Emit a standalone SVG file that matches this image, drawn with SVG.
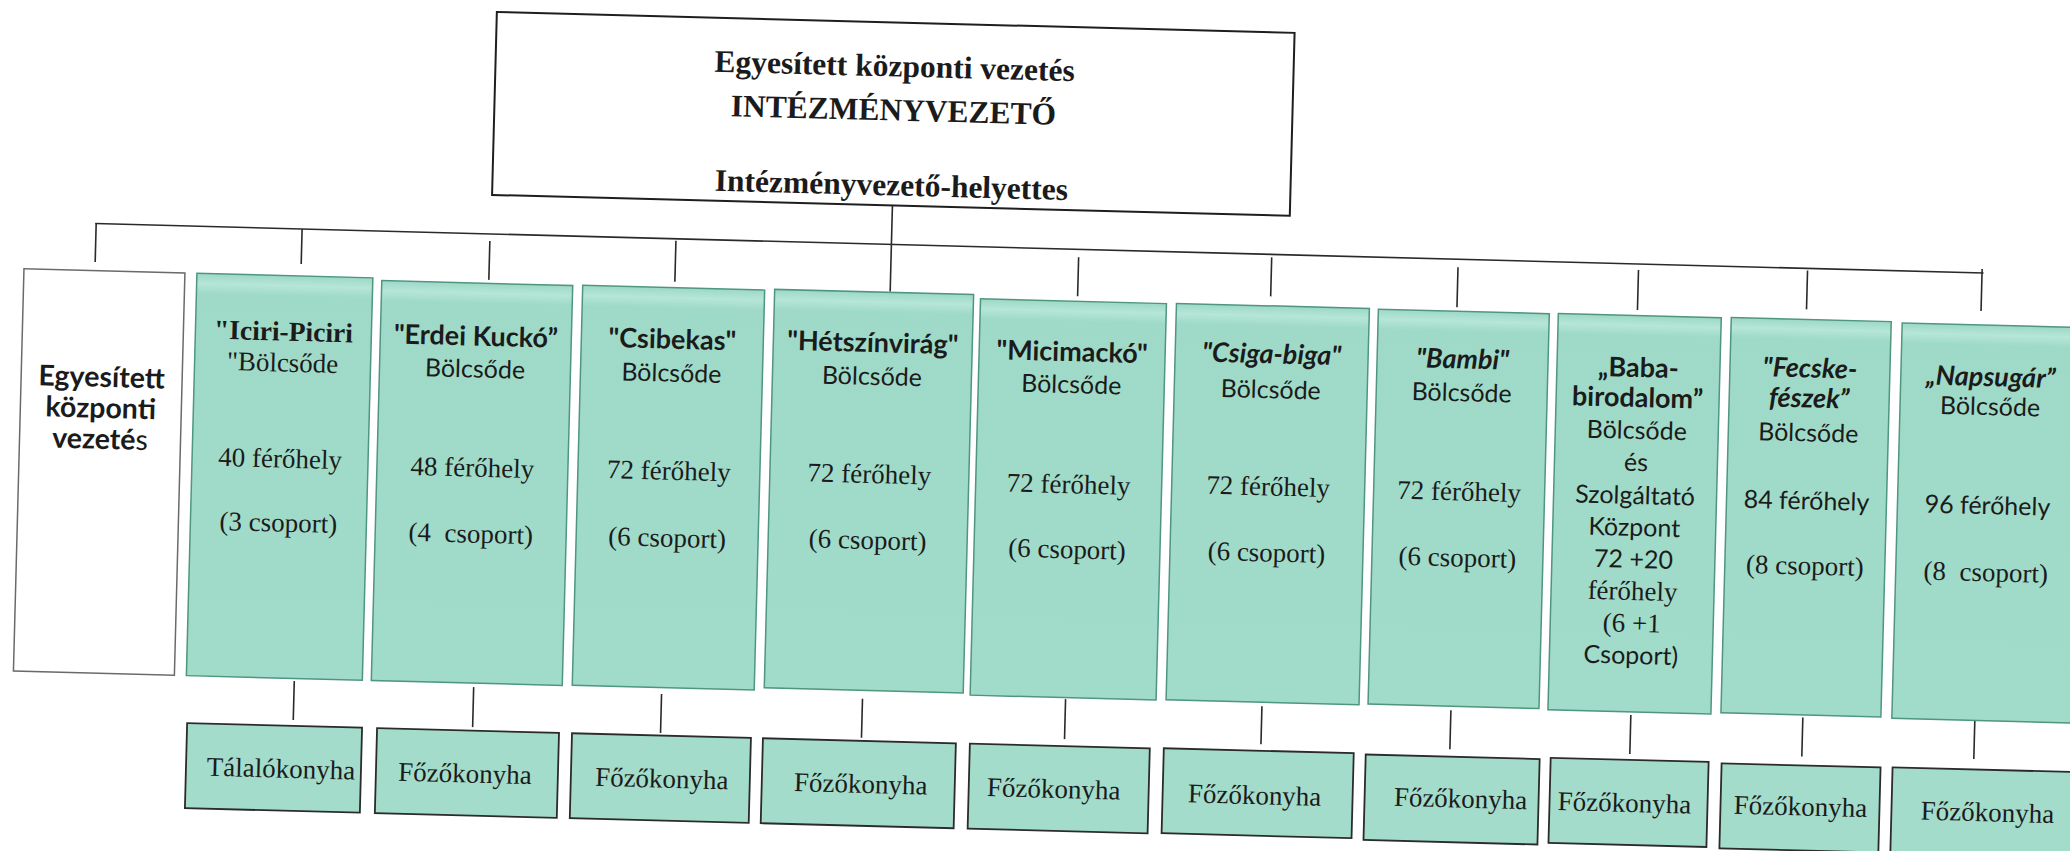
<svg xmlns="http://www.w3.org/2000/svg" width="2070" height="851" viewBox="0 0 2070 851">
<defs>
<style>
.g{fill:url(#gf);stroke:#4f9580;stroke-width:1.5}
.k{fill:#a3dccb;stroke:#2b2b2b;stroke-width:1.8}
.w{fill:#ffffff;stroke:#6a6a6a;stroke-width:1.5}
.tb{fill:#ffffff;stroke:#1e1e1e;stroke-width:2}
.c{stroke:#2a2a2a;stroke-width:1.6;fill:none}
text{fill:#1b1b1b;text-anchor:middle}
.ser{font-family:"Liberation Serif","Times New Roman",serif;font-size:27px}
.serb{font-family:"Liberation Serif","Times New Roman",serif;font-size:27.5px;font-weight:bold}
.hd{font-family:"Liberation Serif","Times New Roman",serif;font-size:31.5px;font-weight:bold}
.sans{font-family:Lato,"Noto Sans",sans-serif;font-size:25px}
.sb{font-family:Lato,"Noto Sans",sans-serif;font-size:27px;font-weight:bold}
.sbi{font-family:Lato,"Noto Sans",sans-serif;font-size:27px;font-weight:bold;font-style:italic}
.wb{font-family:Lato,"Noto Sans",sans-serif;font-size:28.5px;font-weight:bold}
</style>
<linearGradient id="gf" x1="0" y1="0" x2="0" y2="1">
<stop offset="0" stop-color="#9cd8c6"/>
<stop offset="0.025" stop-color="#b6e6d8"/>
<stop offset="0.05" stop-color="#9fdac8"/>
<stop offset="1" stop-color="#a1dbca"/>
</linearGradient>
</defs>
<rect x="0" y="0" width="2070" height="851" fill="#ffffff"/>
<g transform="rotate(1.5)">
<g id="connectors">
<line class="c" x1="101" y1="221" x2="1990" y2="221"/>
<line class="c" x1="102" y1="221" x2="102" y2="259.5"/>
<line class="c" x1="308" y1="221" x2="308" y2="256"/>
<line class="c" x1="496" y1="228" x2="496" y2="267"/>
<line class="c" x1="682" y1="223" x2="682" y2="264"/>
<line class="c" x1="897.5" y1="182" x2="897.5" y2="268"/>
<line class="c" x1="1085" y1="229" x2="1085" y2="268"/>
<line class="c" x1="1278" y1="224" x2="1278" y2="263"/>
<line class="c" x1="1464.5" y1="229" x2="1464.5" y2="269"/>
<line class="c" x1="1645" y1="227" x2="1645" y2="267"/>
<line class="c" x1="1814" y1="223" x2="1814" y2="262"/>
<line class="c" x1="1988.5" y1="217" x2="1988.5" y2="259"/>
<line class="c" x1="312" y1="673" x2="312" y2="712"/>
<line class="c" x1="491.5" y1="674.5" x2="491.5" y2="714.5"/>
<line class="c" x1="679.5" y1="676.5" x2="679.5" y2="715.5"/>
<line class="c" x1="880.5" y1="676" x2="880.5" y2="715"/>
<line class="c" x1="1083.5" y1="671" x2="1083.5" y2="711"/>
<line class="c" x1="1280" y1="673" x2="1280" y2="711"/>
<line class="c" x1="1469" y1="672" x2="1469" y2="711"/>
<line class="c" x1="1649" y1="672" x2="1649" y2="711"/>
<line class="c" x1="1821" y1="670" x2="1821" y2="709"/>
<line class="c" x1="1993" y1="669" x2="1993" y2="707"/>
</g>
<g id="n-top">
<rect class="tb" x="497" y="-1" width="798" height="183"/>
<text class="hd" x="896" y="53">Egyesített központi vezetés</text>
<text class="hd" x="896" y="97">INTÉZMÉNYVEZETŐ</text>
<text class="hd" x="896" y="172">Intézményvezető-helyettes</text>
</g>
<g id="n-egyesitett">
<rect class="w" x="31" y="268" width="161" height="402.5"/>
<text class="wb" x="111.5" y="384">Egyesített</text>
<text class="wb" x="111.5" y="415">központi</text>
<text class="wb" x="111.5" y="446">vezeté<tspan font-weight="normal">s</tspan></text>
</g>
<g id="n-iciri">
<rect class="g" x="204" y="268" width="176" height="402.5"/>
<text class="serb" x="292" y="333">"Iciri-Piciri</text>
<text class="ser" x="292" y="364">"Bölcsőde</text>
<text class="ser" x="292" y="460">40 férőhely</text>
<text class="ser" x="292" y="524">(3 csoport)</text>
</g>
<g id="n-erdei">
<rect class="g" x="389" y="270.5" width="191" height="400"/>
<text class="sb" x="484.5" y="333">"Erdei Kuckó”</text>
<text class="sans" x="484.5" y="365">Bölcsőde</text>
<text class="ser" x="484.5" y="464">48 férőhely</text>
<text class="ser" x="484.5" y="530" xml:space="preserve">(4  csoport)</text>
</g>
<g id="n-csibekas">
<rect class="g" x="590" y="270" width="182" height="400"/>
<text class="sb" x="681" y="331">"Csibekas"</text>
<text class="sans" x="681" y="364">Bölcsőde</text>
<text class="ser" x="681" y="462">72 férőhely</text>
<text class="ser" x="681" y="529">(6 csoport)</text>
</g>
<g id="n-hetszinvirag">
<rect class="g" x="782" y="269" width="199" height="398.5"/>
<text class="sb" x="881.5" y="329">"Hétszínvirág"</text>
<text class="sans" x="881.5" y="362">Bölcsőde</text>
<text class="ser" x="881.5" y="460">72 férőhely</text>
<text class="ser" x="881.5" y="526">(6 csoport)</text>
</g>
<g id="n-micimacko">
<rect class="g" x="988" y="273" width="186" height="396.5"/>
<text class="sb" x="1081" y="333">"Micimackó"</text>
<text class="sans" x="1081" y="365">Bölcsőde</text>
<text class="ser" x="1081" y="465">72 férőhely</text>
<text class="ser" x="1081" y="530">(6 csoport)</text>
</g>
<g id="n-csiga">
<rect class="g" x="1184" y="272.5" width="193" height="396.5"/>
<text class="sbi" x="1280.5" y="330">"Csiga-biga"</text>
<text class="sans" x="1280.5" y="365">Bölcsőde</text>
<text class="ser" x="1280.5" y="462">72 férőhely</text>
<text class="ser" x="1280.5" y="528">(6 csoport)</text>
</g>
<g id="n-bambi">
<rect class="g" x="1386" y="273" width="171" height="395"/>
<text class="sbi" x="1471.5" y="330">"Bambi"</text>
<text class="sans" x="1471.5" y="363">Bölcsőde</text>
<text class="ser" x="1471.5" y="462">72 férőhely</text>
<text class="ser" x="1471.5" y="528">(6 csoport)</text>
</g>
<g id="n-baba">
<rect class="g" x="1566" y="272.5" width="163" height="396.5"/>
<text class="sb" x="1647.5" y="334">„Baba-</text>
<text class="sb" x="1647.5" y="364">birodalom”</text>
<text class="sans" x="1647.5" y="396">Bölcsőde</text>
<text class="sans" x="1647.5" y="428">és</text>
<text class="sans" x="1647.5" y="461">Szolgáltató</text>
<text class="sans" x="1647.5" y="493">Központ</text>
<text class="sans" x="1647.5" y="525">72 +20</text>
<text class="ser" x="1647.5" y="557">férőhely</text>
<text class="ser" x="1647.5" y="589">(6 +1</text>
<text class="sans" x="1647.5" y="621">Csoport)</text>
</g>
<g id="n-fecske">
<rect class="g" x="1739" y="272" width="160" height="395.5"/>
<text class="sbi" x="1819" y="330">"Fecske-</text>
<text class="sbi" x="1819" y="360">fészek”</text>
<text class="sans" x="1819" y="394">Bölcsőde</text>
<text class="sans" x="1819" y="462">84 férőhely</text>
<text class="ser" x="1819" y="527">(8 csoport)</text>
</g>
<g id="n-napsugar">
<rect class="g" x="1910" y="273" width="184" height="395.5"/>
<text class="sbi" x="2000" y="334">„Napsugár”</text>
<text class="sans" x="2000" y="363">Bölcsőde</text>
<text class="sans" x="2000" y="462">96 férőhely</text>
<text class="ser" x="2000" y="529" xml:space="preserve">(8  csoport)</text>
</g>
<g id="k1"><rect class="k" x="206" y="718" width="175" height="85"/><text class="ser" x="301" y="770">Tálalókonyha</text></g>
<g id="k2"><rect class="k" x="396" y="718" width="182" height="85"/><text class="ser" x="485" y="770">Főzőkonyha</text></g>
<g id="k3"><rect class="k" x="591" y="718" width="179" height="85"/><text class="ser" x="682" y="770">Főzőkonyha</text></g>
<g id="k4"><rect class="k" x="782" y="718" width="193" height="85"/><text class="ser" x="881" y="770">Főzőkonyha</text></g>
<g id="k5"><rect class="k" x="989" y="718" width="180" height="85"/><text class="ser" x="1074" y="770">Főzőkonyha</text></g>
<g id="k6"><rect class="k" x="1183" y="717.5" width="190" height="85"/><text class="ser" x="1275" y="771">Főzőkonyha</text></g>
<g id="k7"><rect class="k" x="1385" y="718.5" width="174" height="85.5"/><text class="ser" x="1481" y="769">Főzőkonyha</text></g>
<g id="k8"><rect class="k" x="1570" y="717" width="158" height="85"/><text class="ser" x="1645" y="769">Főzőkonyha</text></g>
<g id="k9"><rect class="k" x="1741" y="718" width="159" height="85"/><text class="ser" x="1821" y="768">Főzőkonyha</text></g>
<g id="k10"><rect class="k" x="1912" y="717.5" width="190" height="86"/><text class="ser" x="2008" y="769">Főzőkonyha</text></g>
</g>
</svg>
